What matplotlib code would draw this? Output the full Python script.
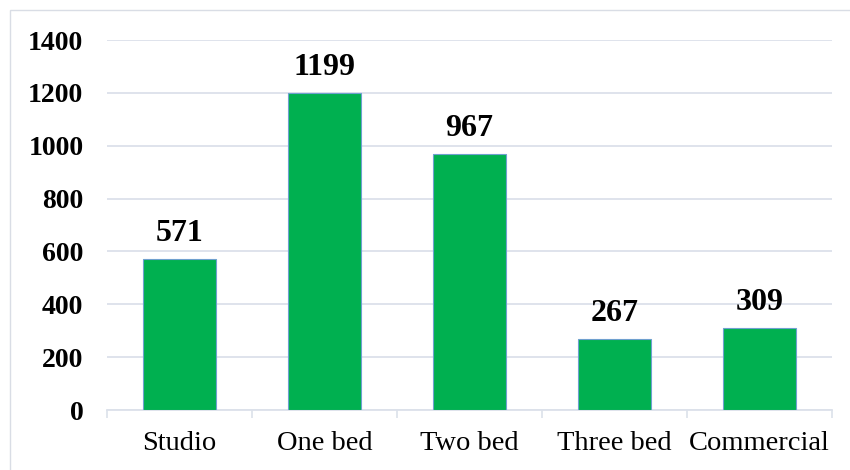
import matplotlib
matplotlib.use("Agg")
import matplotlib.pyplot as plt
from matplotlib.patches import Rectangle
import numpy as np

categories = ["Studio", "One bed", "Two bed", "Three bed", "Commercial"]
counts = [571, 1199, 967, 267, 309]
y_ticks = [0, 200, 400, 600, 800, 1000, 1200, 1400]

plt.rcParams["font.family"] = ["Liberation Serif", "DejaVu Serif"]

fig = plt.figure(figsize=(8.5, 4.7), dpi=100)
ax = fig.add_axes([107 / 850, 60 / 470, 725 / 850, 370 / 470])

grid_color = "#DCE1EA"
x = np.arange(len(categories))
ax.bar(x, counts, width=0.5, color="#00B050", edgecolor="#6FA0CF",
       linewidth=0.8, zorder=3)

for xi, v in zip(x, counts):
    ax.annotate(f"{v}", (xi, v), xytext=(0, 8), textcoords="offset points",
                ha="center", va="bottom", fontsize=23, fontweight="bold",
                zorder=4)

ax.set_xlim(-0.5, len(categories) - 0.5)
ax.set_ylim(0, 1400)
ax.set_yticks(y_ticks)
ax.set_yticklabels([str(t) for t in y_ticks], fontsize=20, fontweight="bold")
ax.set_xticks(x)
ax.set_xticklabels(categories, fontsize=20.5)
ax.set_xticks(np.arange(-0.5, len(categories)), minor=True)

ax.tick_params(axis="y", length=0, pad=17)
ax.tick_params(axis="x", which="major", length=0, pad=15)
ax.tick_params(axis="x", which="minor", length=6, width=1.2, color=grid_color)

ax.yaxis.grid(True, color=grid_color, linewidth=1.3, zorder=0)
ax.set_axisbelow(True)
for side in ("top", "right", "left"):
    ax.spines[side].set_visible(False)
ax.spines["bottom"].set_color(grid_color)
ax.spines["bottom"].set_linewidth(1.3)

# chart-area frame
fig.patches.append(Rectangle((10 / 850, -0.1), 1.2, 1 - 10 / 470 + 0.1,
                             transform=fig.transFigure, fill=False,
                             edgecolor="#D9DDE5", linewidth=1.0))

fig.savefig("out.png", dpi=100)
